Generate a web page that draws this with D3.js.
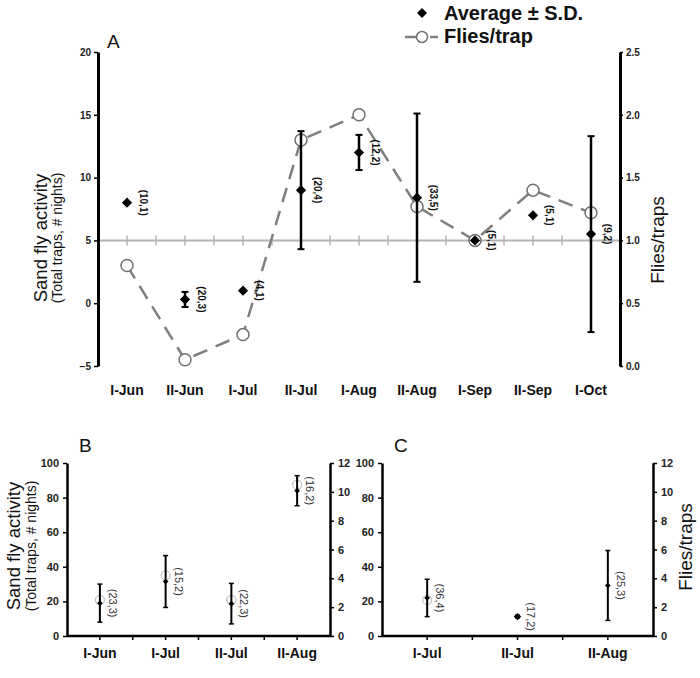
<!DOCTYPE html>
<html><head><meta charset="utf-8">
<script src="https://cdn.jsdelivr.net/npm/d3@7"></script>
<style>body{margin:0;background:#fff}svg{display:block;font-family:"Liberation Sans",Arial,sans-serif}</style>
</head><body>
<svg id="c" width="700" height="678"></svg>
<script>
// ---- Panel A data ----
const catsA = ["I-Jun","II-Jun","I-Jul","II-Jul","I-Aug","II-Aug","I-Sep","II-Sep","I-Oct"];
const avgA  = [8, 0.3, 1, 9, 12, 8.4, 5, 7, 5.5];
const sdA   = [0, 0.6, 0, 4.7, 1.4, 6.7, 0, 0, 7.8];
const fliesA = [0.8, 0.05, 0.25, 1.8, 2.0, 1.27, 1.0, 1.4, 1.22];
const nA    = ["(10,1)","(20,3)","(4,1)","(20,4)","(12,2)","(33,5)","(5,1)","(5,1)","(9,2)"];
const leftTicksA = [-5, 0, 5, 10, 15, 20];
const rightTicksA = [0, 0.5, 1.0, 1.5, 2.0, 2.5];
// ---- Panel B data ----
const catsB = ["I-Jun","I-Jul","II-Jul","II-Aug"];
const avgB  = [19, 31.5, 18.7, 84];
const sdB   = [11, 15, 11.7, 8.7];
const fliesB = [2.5, 4.2, 2.5, 10.5];
const nB    = ["(23,3)","(15,2)","(22,3)","(16,2)"];
// ---- Panel C data ----
const catsC = ["I-Jul","II-Jul","II-Aug"];
const avgC  = [22, 11.2, 29.2];
const sdC   = [10.8, 0.8, 20.2];
const fliesC = [2.5, null, null];
const nC    = ["(36,4)","(17,2)","(25,3)"];
const leftTicksBC = [0, 20, 40, 60, 80, 100];
const rightTicksBC = [0, 2, 4, 6, 8, 10, 12];

const svg = d3.select("#c");
const diamond = (s) => d3.symbol(d3.symbolSquare, s)();

function styleAxis(g, w, fs) {
  g.select(".domain").attr("stroke", "#000").attr("stroke-width", w);
  g.selectAll(".tick line").attr("stroke", "#000").attr("stroke-width", 1.5);
  g.selectAll(".tick text").attr("font-size", fs).attr("font-weight", "bold")
    .attr("fill", "#222").attr("font-family", "Liberation Sans, Arial, sans-serif");
}

// ================= Panel A =================
(function(){
  const x = d3.scaleBand().domain(catsA).range([98, 620]);
  const y = d3.scaleLinear().domain([-5, 20]).range([366, 52]);
  const yr = d3.scaleLinear().domain([0, 2.5]).range([366, 52]);
  const cx = c => x(c) + x.bandwidth() / 2;
  const g = svg.append("g");

  g.append("line").attr("x1", 98).attr("x2", 620).attr("y1", y(5)).attr("y2", y(5))
    .attr("stroke", "#b3b3b3").attr("stroke-width", 2);
  const tickXs = [];
  catsA.forEach((c, i) => { tickXs.push(cx(c)); if (i > 0) tickXs.push(x(c)); });
  g.selectAll(".gt").data(tickXs).enter().append("line")
    .attr("x1", d => d).attr("x2", d => d).attr("y1", y(5) - 5).attr("y2", y(5) + 5)
    .attr("stroke", "#b3b3b3").attr("stroke-width", 1.5);

  const la = g.append("g").attr("transform", "translate(98,0)")
    .call(d3.axisLeft(y).tickValues(leftTicksA).tickSize(4).tickSizeOuter(0).tickPadding(3));
  styleAxis(la, 3, 10);
  const ra = g.append("g").attr("transform", "translate(620,0)")
    .call(d3.axisRight(yr).tickValues(rightTicksA).tickFormat(d3.format(".1f")).tickSize(3).tickSizeOuter(0).tickPadding(3));
  styleAxis(ra, 3, 10);

  g.selectAll(".xl").data(catsA).enter().append("text")
    .attr("x", d => cx(d)).attr("y", 395).attr("text-anchor", "middle")
    .attr("font-size", 14).attr("font-weight", "bold").attr("fill", "#111").text(d => d);

  const line = d3.line().x((d, i) => cx(catsA[i])).y(d => yr(d));
  g.append("path").datum(fliesA).attr("d", line).attr("fill", "none")
    .attr("stroke", "#7f7f7f").attr("stroke-width", 2.5).attr("stroke-dasharray", "15,9");
  g.selectAll(".fc").data(fliesA).enter().append("circle")
    .attr("cx", (d, i) => cx(catsA[i])).attr("cy", d => yr(d)).attr("r", 6)
    .attr("fill", "#fff").attr("stroke", "#707070").attr("stroke-width", 1.5);

  avgA.forEach((v, i) => {
    if (sdA[i] <= 0) return;
    const X = cx(catsA[i]);
    g.append("line").attr("x1", X).attr("x2", X).attr("y1", y(v + sdA[i])).attr("y2", y(v - sdA[i]))
      .attr("stroke", "#000").attr("stroke-width", 2.5);
    [v + sdA[i], v - sdA[i]].forEach(e => g.append("line").attr("x1", X - 3.5).attr("x2", X + 3.5)
      .attr("y1", y(e)).attr("y2", y(e)).attr("stroke", "#000").attr("stroke-width", 2));
  });
  g.selectAll(".dm").data(avgA).enter().append("path")
    .attr("d", diamond(52))
    .attr("transform", (d, i) => `translate(${cx(catsA[i])},${y(d)}) rotate(45)`)
    .attr("fill", "#000");
  g.selectAll(".nl").data(avgA).enter().append("text")
    .attr("transform", (d, i) => `translate(${cx(catsA[i]) + 12},${y(d)}) rotate(90)`)
    .attr("text-anchor", "middle").attr("dy", "-0.1em")
    .attr("font-size", 10).attr("font-weight", "bold").attr("fill", "#111").text((d, i) => nA[i]);

  g.append("text").attr("x", 107).attr("y", 48).attr("font-size", 19).attr("fill", "#111").text("A");
  g.append("text").attr("transform", "translate(47,238) rotate(-90)").attr("text-anchor", "middle")
    .attr("font-size", 18.5).attr("fill", "#111").text("Sand fly activity");
  g.append("text").attr("transform", "translate(62,238) rotate(-90)").attr("text-anchor", "middle")
    .attr("font-size", 14).attr("fill", "#111").text("(Total traps, # nights)");
  g.append("text").attr("transform", "translate(664,240) rotate(-90)").attr("text-anchor", "middle")
    .attr("font-size", 19).attr("fill", "#111").text("Flies/traps");

  const lg = svg.append("g");
  lg.append("path").attr("d", diamond(50)).attr("transform", "translate(422,13) rotate(45)").attr("fill", "#000");
  lg.append("text").attr("x", 444).attr("y", 20).attr("font-size", 20).attr("font-weight", "bold")
    .attr("fill", "#111").text("Average ± S.D.");
  lg.append("line").attr("x1", 405).attr("x2", 416).attr("y1", 37).attr("y2", 37).attr("stroke", "#7f7f7f").attr("stroke-width", 2.5);
  lg.append("line").attr("x1", 430).attr("x2", 438).attr("y1", 37).attr("y2", 37).attr("stroke", "#7f7f7f").attr("stroke-width", 2.5);
  lg.append("circle").attr("cx", 422).attr("cy", 37).attr("r", 5.5).attr("fill", "#fff").attr("stroke", "#707070").attr("stroke-width", 1.5);
  lg.append("text").attr("x", 444).attr("y", 43).attr("font-size", 20).attr("font-weight", "bold")
    .attr("fill", "#111").text("Flies/trap");
})();

// ================= Panels B & C =================
function smallPanel(cats, avg, sd, flies, ns, x0, x1, label, showLeftTitle, showRightTitle) {
  const x = d3.scaleBand().domain(cats).range([x0, x1]);
  const y = d3.scaleLinear().domain([0, 100]).range([636, 463]);
  const yr = d3.scaleLinear().domain([0, 12]).range([636, 463]);
  const cx = c => x(c) + x.bandwidth() / 2;
  const g = svg.append("g");

  g.append("line").attr("x1", x0).attr("x2", x1).attr("y1", 636).attr("y2", 636)
    .attr("stroke", "#000").attr("stroke-width", 2.5);
  const tx = [];
  cats.forEach((c, i) => { tx.push(cx(c)); if (i > 0) tx.push(x(c)); });
  g.selectAll(".bt").data(tx).enter().append("line")
    .attr("x1", d => d).attr("x2", d => d).attr("y1", 636).attr("y2", 640)
    .attr("stroke", "#000").attr("stroke-width", 1.5);

  const la = g.append("g").attr("transform", `translate(${x0},0)`)
    .call(d3.axisLeft(y).tickValues(leftTicksBC).tickSize(4).tickSizeOuter(0).tickPadding(4));
  styleAxis(la, 2.5, 11);
  const ra = g.append("g").attr("transform", `translate(${x1},0)`)
    .call(d3.axisRight(yr).tickValues(rightTicksBC).tickSize(4).tickSizeOuter(0).tickPadding(4));
  styleAxis(ra, 2.5, 11);

  g.selectAll(".xl").data(cats).enter().append("text")
    .attr("x", d => cx(d)).attr("y", 658).attr("text-anchor", "middle")
    .attr("font-size", 14).attr("font-weight", "bold").attr("fill", "#111").text(d => d);

  const fl = flies.map((v, i) => ({v, c: cats[i]})).filter(d => d.v != null);
  g.selectAll(".fc").data(fl).enter().append("circle")
    .attr("cx", d => cx(d.c)).attr("cy", d => yr(d.v)).attr("r", 4.5)
    .attr("fill", "#fff").attr("stroke", "#c4c4c4").attr("stroke-width", 1.3);

  avg.forEach((v, i) => {
    const X = cx(cats[i]);
    g.append("line").attr("x1", X).attr("x2", X).attr("y1", y(v + sd[i])).attr("y2", y(v - sd[i]))
      .attr("stroke", "#000").attr("stroke-width", 2);
    [v + sd[i], v - sd[i]].forEach(e => g.append("line").attr("x1", X - 2.5).attr("x2", X + 2.5)
      .attr("y1", y(e)).attr("y2", y(e)).attr("stroke", "#000").attr("stroke-width", 1.5));
  });
  g.selectAll(".dm").data(avg).enter().append("path")
    .attr("d", (d, i) => diamond(sd[i] < 2 ? 28 : 16))
    .attr("transform", (d, i) => `translate(${cx(cats[i])},${y(d)}) rotate(45)`)
    .attr("fill", "#000");
  g.selectAll(".nl").data(avg).enter().append("text")
    .attr("transform", (d, i) => `translate(${cx(cats[i]) + 8},${y(d)}) rotate(90)`)
    .attr("text-anchor", "middle").attr("dy", "-0.1em")
    .attr("font-size", 11).attr("fill", "#333").text((d, i) => ns[i]);

  g.append("text").attr("x", x0 + 12).attr("y", 452).attr("font-size", 19).attr("fill", "#111").text(label);

  if (showLeftTitle) {
    g.append("text").attr("transform", "translate(20,546) rotate(-90)").attr("text-anchor", "middle")
      .attr("font-size", 18.5).attr("fill", "#111").text("Sand fly activity");
    g.append("text").attr("transform", "translate(36,546) rotate(-90)").attr("text-anchor", "middle")
      .attr("font-size", 14).attr("fill", "#111").text("(Total traps, # nights)");
  }
  if (showRightTitle) {
    g.append("text").attr("transform", "translate(692,547) rotate(-90)").attr("text-anchor", "middle")
      .attr("font-size", 19).attr("fill", "#111").text("Flies/traps");
  }
}
smallPanel(catsB, avgB, sdB, fliesB, nB, 67, 330, "B", true, false);
smallPanel(catsC, avgC, sdC, fliesC, nC, 382, 653, "C", false, true);
</script>
</body></html>
